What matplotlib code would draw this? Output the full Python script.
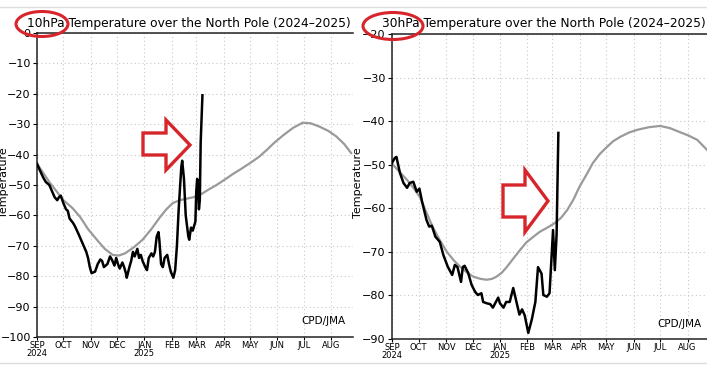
import numpy as np
import matplotlib
matplotlib.use('Agg')
import matplotlib.pyplot as plt
from matplotlib.patches import Ellipse, Polygon

W, H = 707, 369

# month starts, days since 1 Sep 2024
month_days = [0, 30, 61, 91, 122, 153, 181, 212, 242, 273, 303, 334]
month_labels = ['SEP\n2024', 'OCT', 'NOV', 'DEC', 'JAN\n2025', 'FEB', 'MAR',
                'APR', 'MAY', 'JUN', 'JUL', 'AUG']

# 10 hPa climatology (grey)
clim10_day = [0, 7, 14, 22, 30, 40, 49, 58, 68, 77, 86, 93, 100, 110, 120, 130,
              140, 147, 154, 162, 170, 178, 185, 195, 204, 213, 222, 232, 242,
              252, 261, 270, 280, 291, 302, 311, 321, 331, 340, 349, 357]
clim10_val = [-43, -46, -49, -52, -55, -57.5, -60.5, -64.5, -68, -71, -73,
              -73.2, -72.5, -70.5, -68, -64.5, -60.5, -58, -56, -55, -54.5, -54,
              -53.3, -51.5, -50, -48.3, -46.5, -44.7, -42.8, -40.8, -38.5, -36,
              -33.6, -31.2, -29.5, -29.7, -30.8, -32.2, -34, -36.5, -39.5]

# 10 hPa observed 2024-2025 (black)
obs10_day = [0, 3, 7, 10, 14, 17, 20, 23, 25, 27, 30, 33, 35, 37, 41, 43, 47, 50,
             53, 56, 58, 60, 62, 66, 69, 72, 74, 76, 80, 83, 85, 88, 90, 92, 94,
             97, 99, 101, 102, 105, 107, 109, 111, 114, 116, 118, 120, 123, 125,
             127, 130, 132, 134, 136, 138, 139, 141, 143, 145, 148, 150, 152,
             155, 157, 159, 161, 164, 165, 167, 169, 172, 173, 175, 177, 180,
             181, 182, 183, 184, 185, 186, 188]
obs10_val = [-43, -45, -47.5, -49, -50, -52, -54, -55, -54, -53.5, -56, -58,
             -58.5, -61, -62.5, -63.5, -66, -68, -70, -72, -74, -77, -79, -78.5,
             -76, -74.5, -75, -77, -76, -73.5, -74.5, -76.5, -74, -76, -77.5,
             -75.5, -77, -79, -80.5, -77, -75, -72, -73.5, -71, -74, -73, -75,
             -77, -78, -74, -72.5, -73.5, -72, -67, -65.5, -68, -76, -77, -74,
             -73, -76, -78.5, -80.5, -78, -70, -58, -44, -42, -48, -60, -67, -68,
             -64, -65, -62, -52, -48, -50, -58, -55, -36, -20.5]

# 30 hPa climatology (grey)
clim30_day = [0, 8, 17, 25, 32, 39, 46, 54, 62, 70, 77, 85, 92, 100, 107, 113,
              118, 124, 130, 138, 145, 152, 160, 167, 175, 184, 191, 198, 205,
              212, 220, 227, 235, 243, 250, 258, 268, 277, 290, 303, 314, 325,
              335, 345, 356]
clim30_val = [-49.8, -51.5, -53.5, -55.5, -57.6, -61, -64.3, -67.3, -70, -72,
              -73.4, -74.8, -75.7, -76.2, -76.4, -76.2, -75.7, -74.8, -73.4,
              -71.3, -69.5, -67.8, -66.5, -65.4, -64.5, -63.4, -62.2, -60.4, -58,
              -55, -52.2, -49.6, -47.5, -45.9, -44.6, -43.6, -42.6, -42, -41.4,
              -41.1, -41.6, -42.5, -43.3, -44.3, -46.6]

# 30 hPa observed 2024-2025 (black)
obs30_day = [0, 3, 5, 9, 13, 17, 20, 24, 28, 31, 34, 39, 42, 45, 49, 54, 58, 63,
             68, 71, 74, 78, 80, 82, 86, 90, 94, 97, 101, 103, 107, 111, 114,
             120, 122, 126, 129, 133, 137, 141, 144, 147, 150, 154, 158, 162,
             165, 169, 171, 175, 178, 182, 184, 186, 188]
obs30_val = [-49.6, -48.5, -48.2, -51.9, -54.2, -55.3, -54.2, -53.9, -56.2,
             -55.5, -58.5, -62.7, -64.2, -64, -66.5, -67.7, -70.7, -73.4, -75.3,
             -73, -73.5, -76.9, -73.5, -73.2, -74.8, -77.6, -79.2, -79.9, -79.5,
             -81.5, -81.8, -82, -82.8, -80.5, -81.8, -82.8, -81.5, -81.5, -78.3,
             -81.8, -84.4, -83.2, -84.6, -88.6, -85.5, -81.5, -73.5, -75, -79.9,
             -80.3, -79.5, -65, -74.2, -66, -42.7]


def fx(px):
    return px / W


def fy(py):
    return 1 - py / H


fig = plt.figure(figsize=(W / 100, H / 100), dpi=100)

panels = [
    dict(rect=[fx(37), fy(337), fx(316), (337 - 33) / H], xmax=316 / 0.88,
         ylim=(-100, 0), yticks=np.arange(-100, 1, 10),
         clim=(clim10_day, clim10_val), obs=(obs10_day, obs10_val),
         title='10hPa Temperature over the North Pole (2024\u20132025)',
         title_x=27, ylab_x=4.5, cpd_x=345, cpd_y=321),
    dict(rect=[fx(392), fy(339), fx(323), (339 - 34) / H], xmax=365,
         ylim=(-90, -20), yticks=np.arange(-90, -19, 10),
         clim=(clim30_day, clim30_val), obs=(obs30_day, obs30_val),
         title='30hPa Temperature over the North Pole (2024\u20132025)',
         title_x=382, ylab_x=358, cpd_x=702, cpd_y=324),
]

for p in panels:
    ax = fig.add_axes(p['rect'])
    ax.plot(p['clim'][0], p['clim'][1], color='#9a9a9a', lw=1.6, zorder=2)
    ax.plot(p['obs'][0], p['obs'][1], color='black', lw=1.8, zorder=3)
    ax.set_xlim(0, p['xmax'])
    ax.set_ylim(*p['ylim'])
    ax.set_yticks(p['yticks'])
    ax.set_yticklabels([f'\u2212{abs(v)}' if v < 0 else str(v) for v in p['yticks']],
                       fontsize=8)
    ax.set_xticks(month_days)
    ax.set_xticklabels(month_labels, fontsize=6, linespacing=0.85)
    ax.tick_params(axis='y', length=3, width=0.8, pad=1.5)
    ax.tick_params(axis='x', length=2, width=0.8, pad=1)
    ax.grid(True, color='#c8c8c8', ls=(0, (1, 2.5)), lw=0.8)
    ax.spines['right'].set_visible(False)
    for s in ['left', 'bottom', 'top']:
        ax.spines[s].set_linewidth(1.1)
        ax.spines[s].set_color('#222222')
    fig.text(fx(p['title_x']), fy(24), p['title'], fontsize=8.8,
             ha='left', va='center')
    fig.text(fx(p['ylab_x']), fy(183), 'Temperature', fontsize=8,
             rotation=90, ha='center', va='center')
    fig.text(fx(p['cpd_x']), fy(p['cpd_y']), 'CPD/JMA', fontsize=7.5,
             ha='right', va='center')

# red highlights
red = '#d7262b'
for cx, cy, ew, eh in [(42, 24, 52, 25), (393, 26, 60, 27)]:
    fig.add_artist(Ellipse((fx(cx), fy(cy)), fx(ew), eh / H, fill=False,
                           edgecolor=red, lw=2.2, transform=fig.transFigure))

for bx0, bx1, by0, by1, hy0, hy1, tx in [(143, 166, 133, 155, 120, 170, 190),
                                         (503, 525, 185, 217, 170, 232, 548)]:
    ty = (hy0 + hy1) / 2
    pts = [(bx0, by0), (bx1, by0), (bx1, hy0), (tx, ty), (bx1, hy1),
           (bx1, by1), (bx0, by1)]
    fig.add_artist(Polygon([(fx(a), fy(b)) for a, b in pts], closed=True,
                           facecolor='white', edgecolor=red, lw=2.4,
                           transform=fig.transFigure, zorder=5))

# faint frame lines of the screenshot
for yy in [7, 363]:
    fig.add_artist(plt.Line2D([0, 1], [fy(yy), fy(yy)], color='#dddddd', lw=1,
                              transform=fig.transFigure))

fig.savefig('out.png', dpi=100)
